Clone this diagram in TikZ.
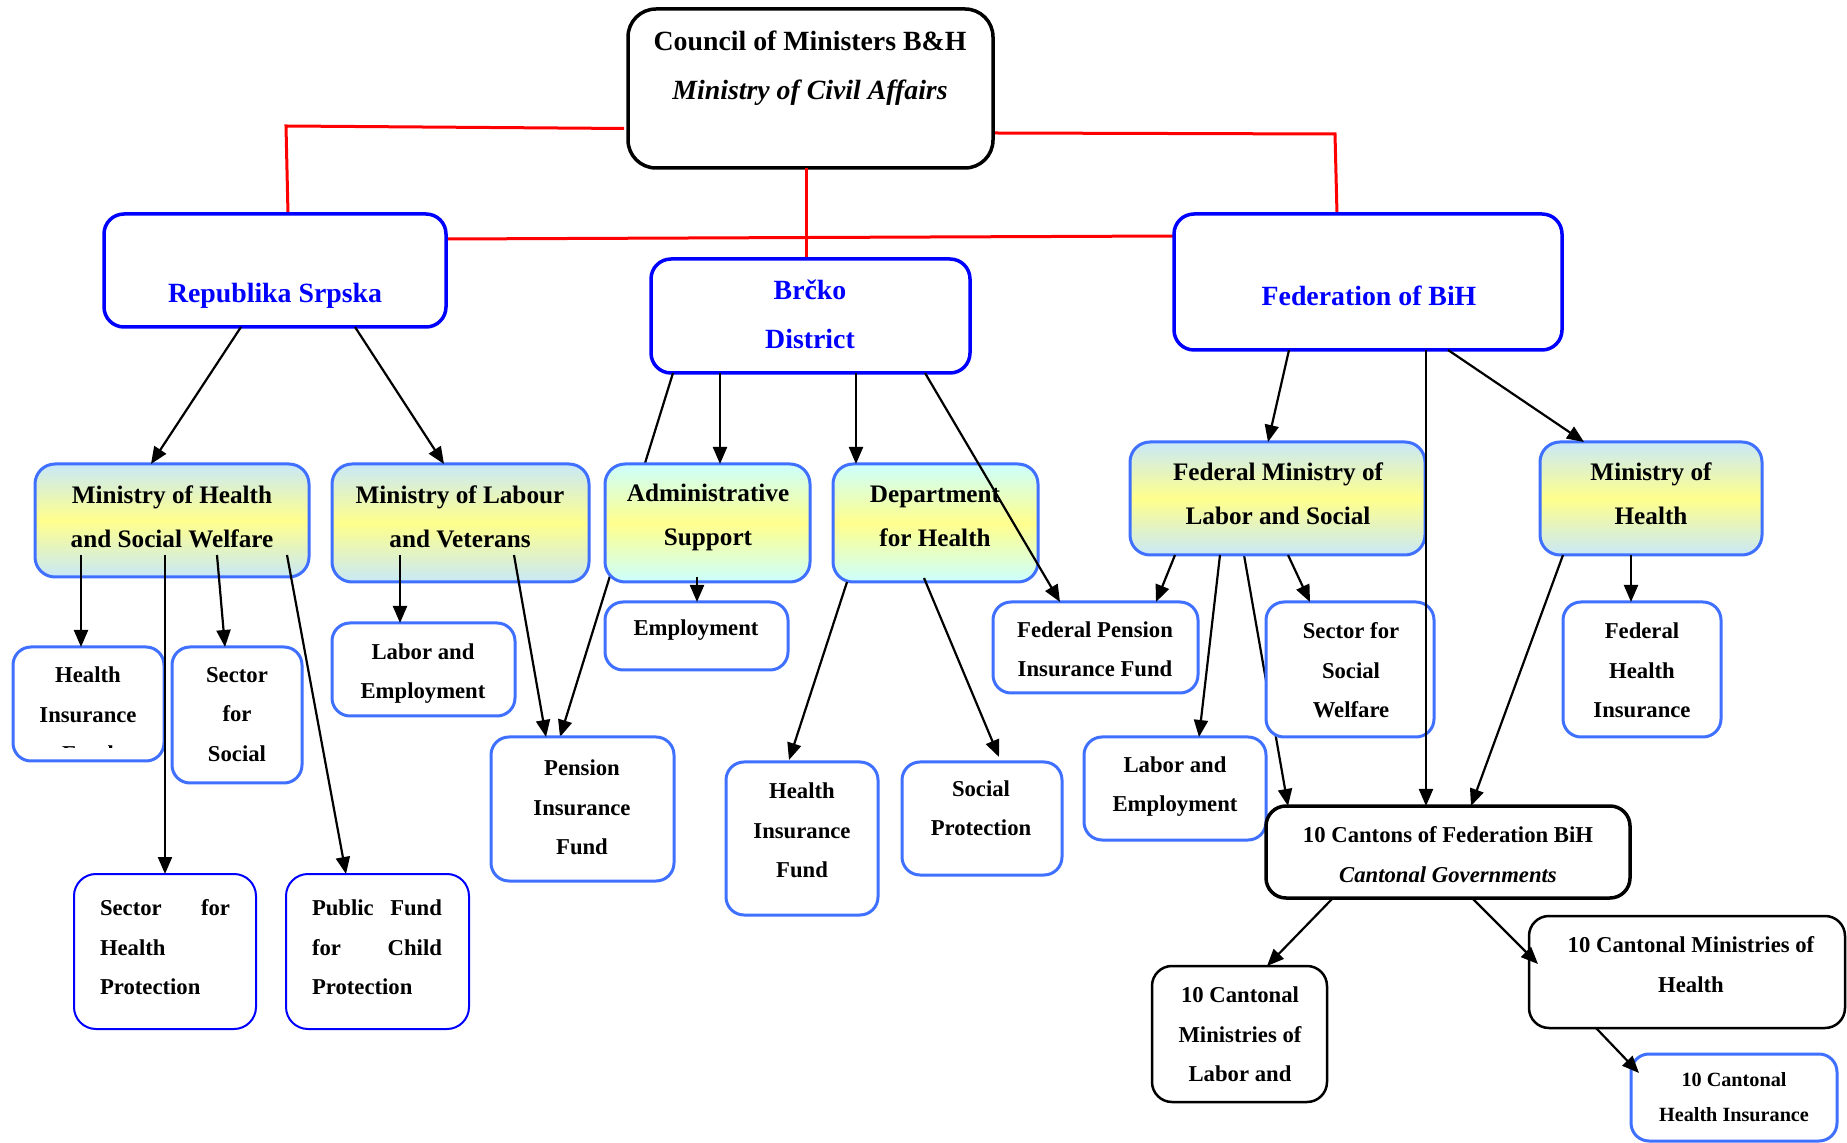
\documentclass[tikz,border=0pt]{standalone}
\usepackage{fontspec}
\setmainfont{Liberation Serif}
\usetikzlibrary{arrows.meta,calc,fit}
\definecolor{bord}{RGB}{64,112,255}
\definecolor{lblue}{RGB}{200,232,248}
\definecolor{lcyan}{RGB}{204,255,255}
\definecolor{lyel}{RGB}{255,255,140}
\definecolor{pblue}{RGB}{0,0,255}
\definecolor{rline}{RGB}{255,0,0}
\begin{document}
\begin{tikzpicture}[x=0.5pt,y=-0.5pt,
  bx/.style={draw, fill=white, inner sep=0pt, outer sep=0pt, rounded corners=10pt},
  topbox/.style={bx, draw=pblue, line width=1.75pt},
  gbox/.style={bx, draw=bord, line width=1.5pt, top color=lblue, bottom color=lblue, middle color=lyel},
  gboxc/.style={bx, draw=bord, line width=1.5pt, top color=lcyan, bottom color=lcyan, middle color=lyel},
  sbox/.style={bx, draw=bord, line width=1.5pt, rounded corners=9pt},
  tbox/.style={bx, draw=pblue, line width=1pt, rounded corners=11pt},
  kbox/.style={bx, draw=black, line width=1.75pt},
  kboxthin/.style={bx, draw=black, line width=1.25pt},
  arr/.style={-{Triangle[length=8.5pt,width=7pt]}, line width=1.1pt, draw=black},
  rl/.style={draw=rline, line width=1.5pt},
  tA/.style={font=\fontsize{13.9}{24.5}\selectfont\bfseries, align=center, inner sep=0pt},
  tB/.style={font=\fontsize{12.6}{22}\selectfont\bfseries, align=center, inner sep=0pt},
  tC/.style={font=\fontsize{11.35}{19.7}\selectfont\bfseries, align=center, inner sep=0pt},
  tJ/.style={font=\fontsize{11.35}{19.7}\selectfont\bfseries, align=left, text width=65pt, inner sep=0pt},
  tD/.style={font=\fontsize{10.1}{17.5}\selectfont\bfseries, align=center, inner sep=0pt}
]
\path[use as bounding box] (0,0) rectangle (1847,1143);
\clip (0,0) rectangle (1847,1143);
\fill[white] (0,0) rectangle (1847,1143);

\node[kbox, rounded corners=14pt, fit={(628,9) (993,168)}] (council) {};

% red connectors
\coordinate (rlA) at (286,126);
\coordinate (rlB) at (1335,134);
\draw[rl] ($(council.west)+(-4,40)$) -- (rlA) -- (288,214);
\draw[rl] ($(council.east)+(2,44.5)$) -- (rlB) -- (1337,214);
\draw[rl] (448,239) -- (1174,236);
\draw[rl] ($(council.south)+(-4.5,0)$) -- (806,259);

\node[topbox, fit={(104,214) (446,327)}] (rs) {};
\node[topbox, fit={(651,259) (970,373)}] (brcko) {};
\node[topbox, fit={(1174,214) (1562,350)}] (fbih) {};

% hidden connectors (passing behind boxes)
\draw[arr] ($(brcko.south west)+(22,0)$) -- (560,737);
\draw[arr] (1244,555) -- (1288,806);

\node[gbox, fit={(35,464) (309,577)}] (mohsw) {};
\node[gbox, fit={(332,464) (589,582)}] (molv) {};
\node[gboxc, fit={(605,464) (810,582)}] (admin) {};
\node[gboxc, fit={(833,464) (1038,582)}] (dept) {};
\node[gbox, fit={(1130,442) (1425,555)}] (fml) {};
\node[gbox, fit={(1540,442) (1762,555)}] (mh) {};

\node[sbox, fit={(13,647) (164,761)}] (rshif) {};
\node[sbox, fit={(172,647) (302,783)}] (rssec) {};
\node[tbox, fit={(74,874) (256,1029)}] (shp) {};
\node[tbox, fit={(286,874) (469,1029)}] (pfcp) {};
\node[sbox, fit={(332,623) (515,716)}] (rsle) {};
\node[sbox, fit={(605,602) (788,670)}] (emp) {};
\node[sbox, fit={(491,737) (674,881)}] (pif) {};
\node[sbox, fit={(726,762) (878,915)}] (bhif) {};
\node[sbox, fit={(902,762) (1062,875)}] (sp) {};
\node[sbox, fit={(993,602) (1198,693)}] (fpif) {};
\node[sbox, fit={(1266,602) (1434,737)}] (ssw) {};
\node[sbox, fit={(1563,602) (1721,737)}] (fhi) {};
\node[sbox, fit={(1084,737) (1266,840)}] (fle) {};
\node[kbox, fit={(1266,806) (1630,898)}] (cant) {};
\node[kboxthin, fit={(1152,966) (1327,1102)}] (cml) {};
\node[kboxthin, fit={(1529,916) (1845,1028)}] (cmh) {};
\node[sbox, fit={(1631,1054) (1837,1141)}] (chi) {};

% texts
\begin{scope}[shift={(0,3.5)}]
\node[tA] (council-t) at (810,65) {Council of Ministers B\&H\\\textit{Ministry of Civil Affairs}};
\node[tA, text=pblue] (rs-t) at (275,292) {Republika Srpska};
\node[tA, text=pblue] (brcko-t) at (810,311) {Brčko\\District};
\node[tA, text=pblue] (fbih-t) at (1369,292) {Federation of BiH};

\node[tB] (mohsw-t) at (172,513) {Ministry of Health\\and Social Welfare};
\node[tB] (molv-t) at (460,513) {Ministry of Labour\\and Veterans};
\node[tB] (admin-t) at (708,514) {Administrative\\Support};
\node[tB] (dept-t) at (935,513) {Department\\for Health};
\node[tB] (fml-t) at (1278,490) {Federal Ministry of\\Labor and Social};
\node[tB] (mh-t) at (1651,490) {Ministry of\\Health};

\begin{scope}
\clip (13,643) rectangle (164,744.5);
\node[tC] (rshif-t) at (88,711) {Health\\Insurance\\Fund};
\end{scope}
\node[tC] (rssec-t) at (237,711) {Sector\\for\\Social};
\node[tJ] (shp-t) at (165,944) {Sector\hskip0pt plus1filll for\\Health\\Protection};
\node[tJ] (pfcp-t) at (377,944) {Public\hskip0pt plus1filll Fund\\for\hskip0pt plus1filll Child\\Protection};
\node[tC] (rsle-t) at (423,670) {Labor and\\Employment};
\node[tC] (emp-t) at (696,627) {Employment};
\node[tC] (pif-t) at (582,804) {Pension\\Insurance\\Fund};
\node[tC] (bhif-t) at (802,827) {Health\\Insurance\\Fund};
\node[tC] (sp-t) at (981,805) {Social\\Protection};
\node[tC] (fpif-t) at (1095,646) {Federal Pension\\Insurance Fund};
\node[tC] (ssw-t) at (1351,667) {Sector for\\Social\\Welfare};
\node[tC] (fhi-t) at (1642,667) {Federal\\Health\\Insurance};
\node[tC] (fle-t) at (1175,783) {Labor and\\Employment};
\node[tC] (cant-t) at (1448,851) {10 Cantons of Federation BiH\\\textit{Cantonal Governments}};
\node[tC] (cml-t) at (1240,1031) {10 Cantonal\\Ministries of\\Labor and};
\node[tC] (cmh-t) at (1691,961) {10 Cantonal Ministries of\\Health};
\node[tD] (chi-t) at (1734,1094) {10 Cantonal\\Health Insurance};
\end{scope}

% connectors
\draw[arr] ($(rs.south west)+(137,0)$) -- ($(mohsw.north west)+(116,0)$);
\draw[arr] ($(rs.south west)+(251,0)$) -- ($(molv.north west)+(112,0)$);
\draw[arr] ($(mohsw.south west)+(46,-22)$) -- ($(rshif.north west)+(68,0)$);
\draw[arr] ($(mohsw.south west)+(182,-22)$) -- ($(rssec.north west)+(53,0)$);
\draw[arr] ($(mohsw.south west)+(130,-22)$) -- ($(shp.north west)+(91,0)$);
\draw[arr] ($(mohsw.south west)+(252,-22)$) -- ($(pfcp.north west)+(60,0)$);
\draw[arr] ($(molv.south west)+(68,-27)$) -- ($(rsle.north west)+(68,0)$);
\draw[arr] ($(molv.south west)+(182,-27)$) -- ($(pif.north west)+(55,0)$);
\draw[arr] ($(brcko.south west)+(69,0)$) -- ($(admin.north west)+(115,0)$);
\draw[arr] ($(brcko.south west)+(205,0)$) -- ($(dept.north west)+(23,0)$);
\draw[arr] ($(brcko.south west)+(274,0)$) -- ($(fpif.north west)+(67,0)$);
\draw[arr] ($(admin.south west)+(92,-5)$) -- ($(emp.north west)+(92,0)$);
\draw[arr] ($(dept.south west)+(14,0)$) -- ($(bhif.north west)+(63,-2)$);
\draw[arr] ($(dept.south west)+(91,-4)$) -- ($(sp.north west)+(97,-5)$);
\draw[arr] ($(fbih.south west)+(115,0)$) -- ($(fml.north west)+(138,0)$);
\draw[arr] ($(fbih.south west)+(274,0)$) -- ($(mh.north west)+(44,0)$);
\draw[arr] ($(fbih.south west)+(252,0)$) -- ($(cant.north west)+(160,0)$);
\draw[arr] ($(fml.south west)+(45,0)$) -- ($(fpif.north west)+(163,0)$);
\draw[arr] ($(fml.south west)+(90,0)$) -- ($(fle.north west)+(115,0)$);
\draw[arr] ($(fml.south west)+(158,0)$) -- ($(ssw.north west)+(44,0)$);
\draw[arr] ($(mh.south west)+(91,0)$) -- ($(fhi.north west)+(68,0)$);
\draw[arr] ($(mh.south west)+(23,0)$) -- ($(cant.north west)+(205,0)$);
\draw[arr] ($(cant.south west)+(67,0)$) -- ($(cml.north west)+(115,0)$);
\draw[arr] ($(cant.south west)+(206,0)$) -- ($(cmh.north west)+(9,48)$);
\draw[arr] ($(cmh.south west)+(67,0)$) -- ($(chi.north west)+(8,19)$);
\end{tikzpicture}
\end{document}
